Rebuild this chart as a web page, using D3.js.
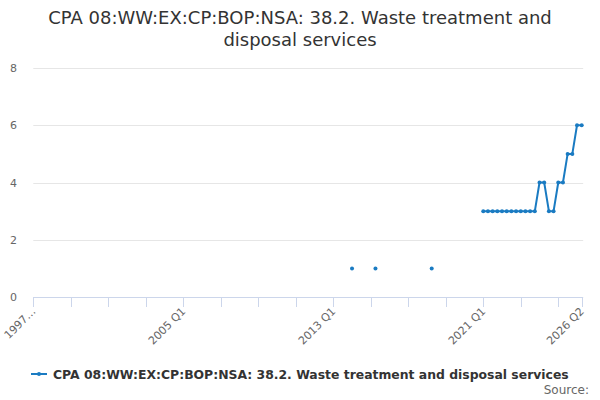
<!DOCTYPE html>
<html>
<head>
    <title>CPA 08 Waste treatment</title>
    <script src="https://d3js.org/d3.v7.min.js"></script>
    <style>
        body { margin: 0; background: #fff; }
        svg { font-family: "DejaVu Sans", Verdana, sans-serif; }
        .grid line { stroke: #e6e6e6; }
        .tick-label { fill: #666; font-size: 11px; }
    </style>
</head>
<body>
    <svg id="chart" width="600" height="400"></svg>

    <script>
        var titleLines = ["CPA 08:WW:EX:CP:BOP:NSA: 38.2. Waste treatment and", "disposal services"];
        var seriesName = "CPA 08:WW:EX:CP:BOP:NSA: 38.2. Waste treatment and disposal services";

        // quarters 1997 Q1 .. 2026 Q2
        var quarters = [];
        for (var yr = 1997; yr <= 2026; yr++) {
            for (var q = 1; q <= 4; q++) {
                if (yr === 2026 && q > 2) break;
                quarters.push(yr + " Q" + q);
            }
        }

        // values, keyed by quarter (others are empty)
        var valueQuarters = [
            "2014 Q1", "2015 Q2", "2018 Q2",
            "2021 Q1", "2021 Q2", "2021 Q3", "2021 Q4",
            "2022 Q1", "2022 Q2", "2022 Q3", "2022 Q4",
            "2023 Q1", "2023 Q2", "2023 Q3", "2023 Q4",
            "2024 Q1", "2024 Q2", "2024 Q3", "2024 Q4",
            "2025 Q1", "2025 Q2", "2025 Q3", "2025 Q4",
            "2026 Q1", "2026 Q2"
        ];
        var values = [
            1, 1, 1,
            3, 3, 3, 3,
            3, 3, 3, 3,
            3, 3, 3, 3,
            4, 4, 3, 3,
            4, 4, 5, 5,
            6, 6
        ];
        var yTicks = [0, 2, 4, 6, 8];
        var xLabels = ["1997 Q1", "2005 Q1", "2013 Q1", "2021 Q1", "2026 Q2"];

        var data = quarters.map(function(k) {
            var i = valueQuarters.indexOf(k);
            return { q: k, v: i >= 0 ? values[i] : null };
        });

        var svg = d3.select("#chart");
        var plotLeft = 33.3, plotRight = 581.7, plotTop = 68, plotBottom = 297;
        var color = "#1a7bc2";

        var x = d3.scalePoint().domain(quarters).range([plotLeft, plotRight]);
        var yScale = d3.scaleLinear().domain([0, 8]).range([plotBottom, plotTop]);

        // title
        svg.append("text")
            .attr("x", 300).attr("y", 24)
            .attr("text-anchor", "middle")
            .style("font-size", "18px").style("fill", "#333")
            .selectAll("tspan").data(titleLines).join("tspan")
            .attr("x", 300)
            .attr("dy", function(d, i) { return i === 0 ? 0 : 22; })
            .text(function(d) { return d; });

        // grid + y labels
        var gy = svg.append("g").attr("class", "grid");
        gy.selectAll("line").data(yTicks.filter(function(d) { return d > 0; })).join("line")
            .attr("x1", plotLeft).attr("x2", plotRight + 1.5)
            .attr("y1", function(d) { return Math.round(yScale(d)) + 0.5; })
            .attr("y2", function(d) { return Math.round(yScale(d)) + 0.5; });
        svg.append("g").selectAll("text").data(yTicks).join("text")
            .attr("class", "tick-label")
            .attr("x", 17).attr("y", function(d) { return yScale(d) + 4; })
            .attr("text-anchor", "end")
            .text(function(d) { return d; });

        // x axis
        svg.append("line")
            .attr("x1", plotLeft).attr("x2", plotRight + 1.5)
            .attr("y1", plotBottom + 0.5).attr("y2", plotBottom + 0.5)
            .attr("stroke", "#ccd6eb");
        var tickQuarters = quarters.filter(function(d, i) { return i % 8 === 0 || i === quarters.length - 1; });
        svg.append("g").selectAll("line").data(tickQuarters).join("line")
            .attr("x1", function(d) { return Math.round(x(d)) + 0.5; })
            .attr("x2", function(d) { return Math.round(x(d)) + 0.5; })
            .attr("y1", plotBottom).attr("y2", plotBottom + 10)
            .attr("stroke", "#ccd6eb");
        svg.append("g").selectAll("text").data(xLabels).join("text")
            .attr("class", "tick-label")
            .attr("text-anchor", "end")
            .attr("transform", function(d) { return "translate(" + (x(d) + 3) + "," + (plotBottom + 15) + ") rotate(-45)"; })
            .text(function(d) { return d === "1997 Q1" ? "1997\u2026" : d; });

        // line + markers
        var line = d3.line()
            .defined(function(d) { return d.v !== null; })
            .x(function(d) { return x(d.q); })
            .y(function(d) { return yScale(d.v); });
        svg.append("path").datum(data)
            .attr("fill", "none").attr("stroke", color)
            .attr("stroke-width", 2).attr("stroke-linejoin", "round")
            .attr("d", line);
        svg.append("g").selectAll("circle").data(data.filter(function(d) { return d.v !== null; })).join("circle")
            .attr("cx", function(d) { return x(d.q); })
            .attr("cy", function(d) { return yScale(d.v); })
            .attr("r", 2)
            .attr("fill", color);

        // legend
        var lg = svg.append("g").attr("transform", "translate(31,374)");
        lg.append("line").attr("x1", 0).attr("x2", 16).attr("y1", 0).attr("y2", 0)
            .attr("stroke", color).attr("stroke-width", 2);
        lg.append("circle").attr("cx", 8).attr("cy", 0).attr("r", 2).attr("fill", color);
        lg.append("text").attr("x", 22).attr("y", 4.5)
            .style("font-size", "12.4px").style("font-weight", "bold").style("fill", "#333")
            .text(seriesName);

        // credits
        svg.append("text")
            .attr("x", 589).attr("y", 394)
            .attr("text-anchor", "end")
            .style("font-size", "12px").style("fill", "#666")
            .text("Source:");
    </script>
</body>
</html>
